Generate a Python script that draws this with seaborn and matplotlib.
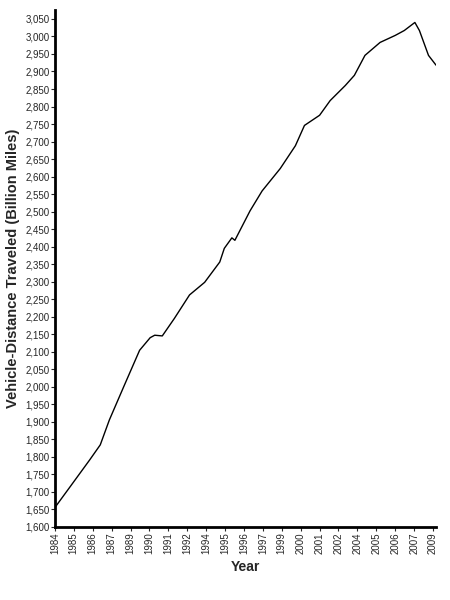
import matplotlib
matplotlib.use("Agg")
import matplotlib.pyplot as plt
import seaborn as sns
import numpy as np

years = [1984.0,1985.0,1986.3,1987.0,1987.6,1988.6,1989.6,1990.3,1990.6,1991.1,1991.9,1992.9,1993.9,1994.9,1995.2,1995.7,1995.9,1996.9,1997.7,1998.9,1999.9,2000.5,2001.5,2002.2,2003.2,2003.8,2004.5,2005.5,2006.5,2007.1,2007.8,2008.1,2008.7,2009.2]
vmt = [1655,1714,1791,1834,1905,2005,2104,2140,2147,2145,2195,2262,2298,2356,2395,2425,2418,2502,2559,2623,2688,2746,2775,2817,2860,2889,2946,2983,3003,3017,3040,3017,2946,2918]
tick_pos = [1984 + 1.25*i for i in range(21)]
tick_lab = [str(int(t)) for t in tick_pos]

sns.set_style("white")
plt.rcParams['font.family'] = ['Liberation Sans', 'DejaVu Sans']
fig = plt.figure(figsize=(4.5, 6), dpi=100)
ax = fig.add_axes([0.122, 0.122, 0.847, 0.861])
sns.lineplot(x=years, y=vmt, ax=ax, color="black", linewidth=1.0)
ax.set_xlim(1984, 2009.2)
ax.set_ylim(1600, 3075)
ax.set_yticks(np.arange(1600, 3051, 50))
ax.set_yticklabels([f"{v:,}" for v in range(1600, 3051, 50)], fontsize=7)
ax.set_xticks(tick_pos)
ax.set_xticklabels(tick_lab, rotation=90, fontsize=7)
ax.tick_params(axis='both', length=3, direction='out', pad=1)
ax.tick_params(left=True, bottom=True)
ax.set_xlabel("Year", fontsize=10, fontweight='bold')
ax.set_ylabel("Vehicle-Distance Traveled (Billion Miles)", fontsize=10.5, fontweight='bold')
for s in ['left', 'bottom']:
    ax.spines[s].set_linewidth(2)
    ax.spines[s].set_color('black')
ax.spines['top'].set_visible(False)
ax.spines['right'].set_visible(False)
fig.savefig("out.png")
